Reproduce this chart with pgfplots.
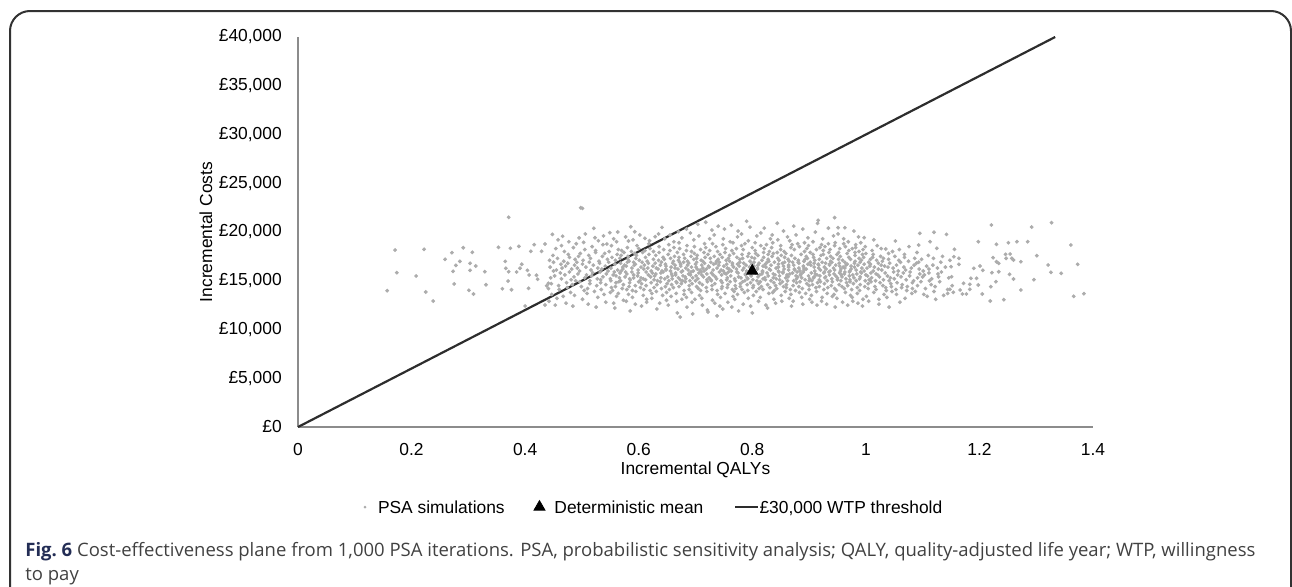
\documentclass[border=0pt]{standalone}
\usepackage{pgfplots}
\pgfplotsset{compat=1.18}
\usepackage{fontspec}
\setmainfont{Liberation Sans}
\newfontfamily\capfont{Open Sans}
\definecolor{axisgray}{RGB}{140,140,140}
\definecolor{dotgray}{RGB}{172,172,172}
\definecolor{linedark}{RGB}{45,45,45}
\definecolor{capblue}{RGB}{35,45,85}
\definecolor{captext}{RGB}{65,65,65}
\definecolor{framegray}{RGB}{50,50,50}

\begin{document}
\begin{tikzpicture}[x=0.5pt,y=0.5pt]
\useasboundingbox (0,0) rectangle (1292,586);
\begin{scope}
  \clip (0,0) rectangle (1292,586);
  \draw[framegray, line width=1pt, rounded corners=10pt] (10,-60) rectangle (1291,575);
\end{scope}

\begin{axis}[
  at={(149pt,79.5pt)}, anchor=south west,
  scale only axis, width=397.5pt, height=195pt,
  xmin=0, xmax=1.4, ymin=0, ymax=40000,
  scaled y ticks=false, scaled x ticks=false,
  axis x line*=bottom, axis y line*=left,
  axis line style={axisgray, line width=1pt},
  major tick length=0pt,
  clip=false,
  xtick={0,0.2,0.4,0.6,0.8,1,1.2,1.4},
  xticklabels={0,0.2,0.4,0.6,0.8,1,1.2,1.4},
  ytick={0,5000,10000,15000,20000,25000,30000,35000,40000},
  yticklabels={£0,{£5,000},{£10,000},{£15,000},{£20,000},{£25,000},{£30,000},{£35,000},{£40,000}},
  every tick label/.append style={font=\fontsize{8.7}{10}\selectfont},
  yticklabel style={xshift=-4.6pt},
  xticklabel style={yshift=-4.6pt},
  xlabel={Incremental QALYs},
  ylabel={Incremental Costs},
  label style={font=\fontsize{8.7}{10}\selectfont},
  xlabel style={at={(axis description cs:0.5,-0.1103)}, anchor=center},
  ylabel style={at={(axis description cs:-0.1157,0.5)}, anchor=center},
  legend columns=3,
  legend cell align=left,
  legend style={at={(axis description cs:0.0824,-0.2051)}, anchor=west,
    draw=none, fill=none, inner sep=0pt, outer sep=0pt,
    font=\fontsize{8.7}{10}\selectfont,
    nodes={inner sep=0pt, text depth=0pt},
    /tikz/column sep=0pt},
]

% PSA simulations
\addplot[only marks, mark=*, mark size=0.75pt, color=dotgray, forget plot] coordinates {
(0.171,18150) (0.222,18230) (0.174,15830) (0.208,15490) (0.157,13980) (0.225,13850) (0.238,12920) (0.371,21510)
(0.259,17200) (0.271,17880) (0.291,18390) (0.307,17920) (0.278,16580) (0.285,16990) (0.303,16790) (0.313,16510)
(0.273,15970) (0.303,16070) (0.329,15930) (0.275,14670) (0.331,14590) (0.301,14020) (0.309,13640) (0.353,18430)
(0.374,18330) (0.389,18530) (0.416,18700) (0.435,18770) (0.410,18020) (0.429,18020) (0.365,16990) (0.394,16690)
(0.366,16280) (0.371,15930) (0.391,16280) (0.385,15900) (0.404,16070) (0.407,15590) (0.420,15560) (0.422,15150)
(0.370,14970) (0.360,14180) (0.376,14080) (0.406,14230) (0.438,14490) (0.441,14740) (0.400,12410) (0.435,12510)
(0.443,17100) (0.445,15300) (0.441,14200) (0.444,16400) (0.442,12900)
(0.448,19760) (0.450,16000) (0.446,14700) (0.449,17600) (0.447,13600)
(0.452,15500) (0.454,18300) (0.450,16900) (0.453,12500)
(0.457,17300) (0.459,14500) (0.455,16100) (0.458,19200) (0.456,13200)
(0.462,15800) (0.464,18600) (0.460,14100) (0.463,16700)
(0.466,19560) (0.468,17000) (0.464,15200) (0.467,13400) (0.465,16300)
(0.471,16500) (0.473,14800) (0.469,18000) (0.472,12700) (0.470,15600)
(0.476,17700) (0.478,15900) (0.474,14300) (0.477,19000) (0.475,16800)
(0.480,13800) (0.482,16200) (0.478,17400) (0.481,15100)
(0.485,18400) (0.487,16600) (0.483,14600) (0.486,15400) (0.484,12400) (0.488,17200)
(0.489,15000) (0.491,16900) (0.487,13500) (0.490,18800)
(0.494,17500) (0.496,14900) (0.492,16300) (0.495,19400) (0.493,15700)
(0.498,22490) (0.501,22420) (0.496,16000) (0.499,14400) (0.497,17800) (0.501,13100)
(0.503,18940) (0.505,15300) (0.501,16700) (0.504,14000) (0.502,17100)
(0.507,16400) (0.509,13700) (0.505,18200) (0.508,15600) (0.506,19800)
(0.512,17600) (0.514,15000) (0.510,14200) (0.513,16900) (0.511,12600)
(0.516,16100) (0.518,18500) (0.514,14700) (0.517,15500) (0.515,17300)
(0.521,20380) (0.523,19415) (0.519,15800) (0.522,13900) (0.520,16600) (0.524,17900)
(0.526,14500) (0.528,16300) (0.524,18100) (0.527,15200) (0.525,12300)
(0.530,17000) (0.532,15900) (0.528,13300) (0.531,16800) (0.529,19100) (0.533,14800)
(0.535,16200) (0.537,18700) (0.533,15100) (0.536,17500) (0.534,14100)
(0.539,13600) (0.541,16500) (0.537,15400) (0.540,17800) (0.538,19600) (0.542,12800)
(0.544,18770) (0.546,16000) (0.542,14600) (0.545,17200) (0.543,15700)
(0.549,19930) (0.551,15000) (0.547,16900) (0.550,13800) (0.548,18000) (0.552,14300)
(0.553,17400) (0.555,15600) (0.551,16300) (0.554,14000) (0.552,18600) (0.556,12700) (0.550,15200)
(0.558,16700) (0.560,14800) (0.556,19300) (0.559,17100) (0.557,15900) (0.561,13400)
(0.561,19005) (0.563,16100) (0.559,14400) (0.562,17700) (0.560,15500) (0.564,18200) (0.558,12200)
(0.566,15300) (0.568,16800) (0.564,13700) (0.567,17300) (0.565,14900) (0.569,16000) (0.563,20000)
(0.570,18100) (0.572,16400) (0.568,15000) (0.571,14200) (0.569,17600) (0.573,13000) (0.567,15800)
(0.575,16600) (0.577,19500) (0.573,14600) (0.576,15400) (0.574,17900) (0.578,12900) (0.572,16200)
(0.579,14100) (0.581,17200) (0.577,15900) (0.580,18400) (0.578,16500) (0.582,13600)
(0.582,19076) (0.584,15200) (0.580,16900) (0.583,14400) (0.581,17500) (0.585,11900) (0.579,15700)
(0.586,20540) (0.588,16300) (0.584,14800) (0.587,18000) (0.585,15100) (0.589,13300) (0.583,17000)
(0.591,15600) (0.593,17800) (0.589,14000) (0.592,16600) (0.590,19200) (0.594,12600) (0.588,15900) (0.591,16900)
(0.593,20030) (0.595,17300) (0.591,15300) (0.594,14500)
(0.597,18600) (0.599,16100) (0.595,13900) (0.598,15500) (0.596,17600) (0.600,14900) (0.594,16700)
(0.602,15000) (0.604,16400) (0.600,18300) (0.603,14300) (0.601,17100) (0.605,12400) (0.599,15800) (0.602,19700)
(0.606,16900) (0.608,13500) (0.604,15300) (0.607,17900) (0.605,14700) (0.609,16200)
(0.611,19354) (0.613,15900) (0.609,14100) (0.612,17400) (0.610,16600) (0.614,13100) (0.608,15200) (0.611,18100)
(0.615,17000) (0.617,15600) (0.613,14500) (0.616,16300) (0.614,12800) (0.618,18800) (0.612,15100)
(0.620,14000) (0.622,16000) (0.618,17700) (0.621,15400) (0.619,19100) (0.623,13700) (0.617,16800) (0.620,18300)
(0.624,15800) (0.626,17200) (0.622,14800) (0.625,16500) (0.623,13200) (0.627,15100)
(0.629,19518) (0.631,16300) (0.627,14300) (0.630,17600) (0.628,15500) (0.632,12100) (0.626,18000) (0.629,16800)
(0.633,15000) (0.635,17100) (0.631,13900) (0.634,16200) (0.632,14600) (0.636,18500) (0.630,15700)
(0.638,16600) (0.640,14200) (0.636,17900) (0.639,15300) (0.637,12700) (0.641,16000) (0.635,19800) (0.638,14900)
(0.641,20480) (0.643,17400) (0.639,15800) (0.642,13500) (0.640,16900)
(0.646,15200) (0.648,16500) (0.644,18200) (0.647,14400) (0.645,17200) (0.649,13000) (0.643,15900) (0.646,19300) (0.648,16200)
(0.650,14700) (0.652,17700) (0.648,16100) (0.651,15400) (0.649,13800) (0.653,18700) (0.647,16700)
(0.655,19692) (0.657,16400) (0.653,15000) (0.656,17300) (0.654,14100) (0.658,15700) (0.652,12500) (0.655,18100)
(0.659,15500) (0.661,17000) (0.657,13400) (0.660,16800) (0.658,14600) (0.662,19000) (0.656,16000) (0.659,15200)
(0.664,16300) (0.666,14900) (0.662,18400) (0.665,15800) (0.663,17500) (0.667,12900) (0.661,14300) (0.664,16600)
(0.668,17900) (0.670,15300) (0.666,13700) (0.669,16200) (0.667,14800) (0.671,18900) (0.665,15600)
(0.670,20030) (0.672,16900) (0.668,11700) (0.671,17400)
(0.673,11280) (0.675,15900) (0.671,14400) (0.674,16500) (0.672,18300) (0.676,13100) (0.670,17100) (0.673,15100)
(0.677,16000) (0.679,17700) (0.675,14700) (0.678,15500) (0.676,19400) (0.680,13600) (0.674,16700) (0.677,15000)
(0.682,15400) (0.684,18100) (0.680,14000) (0.683,16300) (0.681,17300) (0.685,12300) (0.679,16900) (0.682,14900) (0.684,20300)
(0.686,17000) (0.688,15700) (0.684,13300) (0.687,16100) (0.685,18600) (0.689,14500) (0.683,15200) (0.686,16600)
(0.691,19900) (0.693,16400) (0.689,14100) (0.692,17500) (0.690,15000) (0.694,12800) (0.688,16800) (0.691,15600) (0.693,18000)
(0.695,15300) (0.697,17200) (0.693,13800) (0.696,16000) (0.694,14700) (0.698,18500) (0.692,15900) (0.695,11600)
(0.700,16700) (0.702,14400) (0.698,17800) (0.701,15500) (0.699,13100) (0.703,16200) (0.697,19200) (0.700,15000) (0.702,17300)
(0.704,20800) (0.706,15800) (0.702,16900) (0.705,14200) (0.703,17600) (0.707,13500) (0.701,16400) (0.704,15200)
(0.709,18200) (0.711,15600) (0.707,14800) (0.710,17100) (0.708,16100) (0.712,12500) (0.706,19600) (0.709,14000) (0.711,16600)
(0.713,16300) (0.715,17900) (0.711,13200) (0.714,15400) (0.712,14600) (0.716,18800) (0.710,15900) (0.713,17000)
(0.718,21000) (0.720,15100) (0.716,16800) (0.719,14300) (0.717,17400) (0.721,12000) (0.715,16000) (0.718,18400) (0.720,15700)
(0.722,17700) (0.724,15300) (0.720,13900) (0.723,16500) (0.721,14900) (0.725,19300) (0.719,16200) (0.722,11800)
(0.727,16900) (0.729,14500) (0.725,18100) (0.728,15800) (0.726,17300) (0.730,13000) (0.724,16400) (0.727,15100) (0.729,20200)
(0.731,15600) (0.733,17500) (0.729,14100) (0.732,16700) (0.730,18800) (0.734,12700) (0.728,15000) (0.731,16100)
(0.736,18500) (0.738,16300) (0.734,14700) (0.737,17000) (0.735,15400) (0.739,13600) (0.733,19700) (0.736,16800) (0.738,11400)
(0.740,17200) (0.742,15900) (0.738,14000) (0.741,16600) (0.739,18000) (0.743,12400) (0.737,15200) (0.740,20600)
(0.745,16100) (0.747,14400) (0.743,17700) (0.746,15600) (0.744,13300) (0.748,18700) (0.742,16900) (0.745,15000) (0.747,17400)
(0.749,19300) (0.751,15800) (0.747,14800) (0.750,16500) (0.748,12100) (0.752,17900) (0.746,14200) (0.749,16000)
(0.754,17100) (0.756,15300) (0.752,13700) (0.755,16700) (0.753,18300) (0.757,14600) (0.751,20300) (0.754,15700) (0.756,16300)
(0.758,15900) (0.760,17600) (0.756,14300) (0.759,16200) (0.757,12800) (0.761,19000) (0.755,15100) (0.758,17300)
(0.763,20700) (0.765,16600) (0.761,14900) (0.764,18100) (0.762,15500) (0.766,13400) (0.760,17000) (0.763,16000) (0.765,14100)
(0.767,17800) (0.769,15200) (0.765,16800) (0.768,13900) (0.766,18900) (0.770,14500) (0.764,12300) (0.767,16400)
(0.772,16200) (0.774,19500) (0.770,15000) (0.773,17400) (0.771,14200) (0.775,15800) (0.769,13100) (0.772,18300) (0.774,16700)
(0.776,15400) (0.778,17200) (0.774,13600) (0.777,16500) (0.775,20100) (0.779,14700) (0.773,15900) (0.776,11900)
(0.781,18600) (0.783,16100) (0.779,14400) (0.782,17700) (0.780,15300) (0.784,12600) (0.778,16900) (0.781,19800) (0.783,14900)
(0.785,16800) (0.787,15000) (0.783,17300) (0.786,13800) (0.784,18200) (0.788,15600) (0.782,14100) (0.785,16300)
(0.790,21100) (0.792,17500) (0.788,15700) (0.791,14600) (0.789,16600) (0.793,13200) (0.787,18800) (0.790,16000) (0.792,15200)
(0.794,15900) (0.796,17000) (0.792,14000) (0.795,16400) (0.793,19100) (0.797,12400) (0.791,15300) (0.794,17800)
(0.799,17400) (0.801,16100) (0.797,14800) (0.800,18400) (0.798,15500) (0.802,13500) (0.796,20500) (0.799,16700) (0.801,14300)
(0.803,16500) (0.805,18900) (0.801,15100) (0.804,17300) (0.802,14500) (0.806,15800) (0.800,11700) (0.803,16900)
(0.808,19600) (0.810,15400) (0.806,17800) (0.809,16200) (0.807,13900) (0.811,14700) (0.805,18100) (0.808,15000) (0.810,16600)
(0.812,16800) (0.814,14900) (0.810,17600) (0.813,15600) (0.811,12900) (0.815,18600) (0.809,16300) (0.812,14200)
(0.817,17100) (0.819,15200) (0.815,19900) (0.818,16000) (0.816,14400) (0.820,17900) (0.814,13300) (0.817,15700) (0.819,16500)
(0.821,18300) (0.823,16700) (0.819,14100) (0.822,15300) (0.820,17400) (0.824,12500) (0.818,15900) (0.821,20400)
(0.826,15800) (0.828,17200) (0.824,16400) (0.827,14600) (0.825,18700) (0.829,13700) (0.823,15100) (0.826,16900) (0.828,17700)
(0.830,16200) (0.832,19300) (0.828,15500) (0.831,14300) (0.829,17000) (0.833,15000) (0.827,12200) (0.830,18000)
(0.835,17500) (0.837,15700) (0.833,16600) (0.836,13800) (0.834,18400) (0.838,14800) (0.832,16100) (0.835,19700) (0.837,15300)
(0.839,16900) (0.841,14500) (0.837,17800) (0.840,15600) (0.838,13100) (0.842,16300) (0.836,18900) (0.839,14000)
(0.844,20900) (0.846,16400) (0.842,15200) (0.845,17300) (0.843,14200) (0.847,15900) (0.841,12700) (0.844,17900) (0.846,16700)
(0.848,15500) (0.850,18200) (0.846,16000) (0.849,14700) (0.847,17100) (0.851,13500) (0.845,19200) (0.848,15100)
(0.853,16800) (0.855,14400) (0.851,17600) (0.854,15800) (0.852,12900) (0.856,16200) (0.850,18600) (0.853,14900) (0.855,20100)
(0.857,17400) (0.859,15300) (0.855,16500) (0.858,13900) (0.856,18000) (0.860,14600) (0.854,15900) (0.857,16900)
(0.862,19500) (0.864,16100) (0.860,14300) (0.863,17200) (0.861,15600) (0.865,13200) (0.859,17800) (0.862,15000) (0.864,16600)
(0.866,15700) (0.868,18400) (0.864,16400) (0.867,14100) (0.865,17000) (0.869,12400) (0.863,15400) (0.866,19100)
(0.871,16900) (0.873,15000) (0.869,17600) (0.872,14500) (0.870,18700) (0.874,16200) (0.868,13600) (0.871,15800) (0.873,20600)
(0.875,17300) (0.877,15500) (0.873,16600) (0.876,14000) (0.874,18200) (0.878,15200) (0.872,12900) (0.875,16100)
(0.880,18800) (0.882,16300) (0.878,14800) (0.881,17100) (0.879,15900) (0.883,13800) (0.877,19700) (0.880,15400) (0.882,16800)
(0.884,16000) (0.886,17700) (0.882,14400) (0.885,15600) (0.883,18500) (0.887,13300) (0.881,16900) (0.884,14900)
(0.889,20300) (0.891,17000) (0.887,15300) (0.890,16500) (0.888,14200) (0.892,18000) (0.886,15700) (0.889,12600) (0.891,16300)
(0.893,15100) (0.895,17500) (0.891,16100) (0.894,13700) (0.892,18900) (0.896,14700) (0.890,15900) (0.893,17200)
(0.898,16700) (0.900,14500) (0.896,18300) (0.899,15500) (0.897,17300) (0.901,13100) (0.895,16200) (0.898,19400) (0.900,15000)
(0.902,17900) (0.904,15800) (0.900,14100) (0.903,16600) (0.901,15200) (0.905,12800) (0.899,18600) (0.902,16900)
(0.907,19000) (0.909,16400) (0.905,15000) (0.908,17400) (0.906,14600) (0.910,16000) (0.904,13500) (0.907,17700) (0.909,15400)
(0.911,15700) (0.913,18200) (0.909,16800) (0.912,14300) (0.910,17100) (0.914,12500) (0.908,15300) (0.911,20000)
(0.916,21200) (0.918,17200) (0.914,15600) (0.917,16300) (0.915,14800) (0.919,18400) (0.913,13900) (0.916,16700) (0.918,15100)
(0.920,16100) (0.922,18700) (0.918,14400) (0.921,17600) (0.919,15500) (0.923,13300) (0.917,16600) (0.920,14900)
(0.925,17700) (0.927,15900) (0.923,16900) (0.926,14100) (0.924,19300) (0.928,15300) (0.922,12900) (0.925,18100) (0.927,16400)
(0.929,15400) (0.931,17300) (0.927,14700) (0.930,16200) (0.928,18500) (0.932,13700) (0.926,15800) (0.929,16800)
(0.934,20400) (0.936,16600) (0.932,15000) (0.935,17900) (0.933,14300) (0.937,16000) (0.931,12600) (0.934,18800) (0.936,15600)
(0.938,17000) (0.940,15200) (0.936,16700) (0.939,14500) (0.937,18200) (0.941,13400) (0.935,15900) (0.938,17500)
(0.943,16300) (0.945,18600) (0.941,14900) (0.944,15700) (0.942,17300) (0.946,12300) (0.940,16900) (0.943,19600) (0.945,14200)
(0.945,21470) (0.915,20890) (0.951,20440) (0.963,20440)
(0.947,15500) (0.949,17700) (0.945,16100) (0.948,14000) (0.946,18900) (0.950,15100) (0.944,13600) (0.947,16600)
(0.952,17900) (0.954,16500) (0.950,15300) (0.953,14600) (0.951,19800) (0.955,16000) (0.949,13200) (0.952,17200) (0.954,15800)
(0.956,16200) (0.958,14400) (0.954,18300) (0.957,15600) (0.955,17500) (0.959,12800) (0.953,16800) (0.956,15000)
(0.961,18800) (0.963,15900) (0.959,17100) (0.962,14200) (0.960,16400) (0.964,13800) (0.958,15400) (0.961,19300) (0.963,16900)
(0.965,15200) (0.967,17800) (0.963,16300) (0.966,14800) (0.964,18500) (0.968,12500) (0.962,15700) (0.965,16600)
(0.970,17400) (0.972,16000) (0.968,14500) (0.971,15500) (0.969,19000) (0.973,13500) (0.967,16700) (0.970,18100) (0.972,14900)
(0.974,16500) (0.976,18300) (0.972,15100) (0.975,14100) (0.973,17200) (0.977,12900) (0.971,15900) (0.974,16200)
(0.979,20100) (0.981,17000) (0.977,15600) (0.980,16800) (0.978,14700) (0.982,18700) (0.976,13300) (0.979,15300) (0.981,17600)
(0.983,16100) (0.985,14300) (0.981,17900) (0.984,15700) (0.982,18400) (0.986,12700) (0.980,16400) (0.983,15000)
(0.988,17300) (0.990,15400) (0.986,16600) (0.989,14000) (0.987,19500) (0.991,15900) (0.985,13700) (0.988,18000) (0.990,16900)
(0.992,15800) (0.994,17700) (0.990,14600) (0.993,16300) (0.991,18900) (0.995,13100) (0.989,15200) (0.992,17100)
(0.997,16700) (0.999,15000) (0.995,18200) (0.998,14400) (0.996,17400) (1.000,15600) (0.994,12400) (0.997,16000) (0.997,19415)
(1.002,16300) (1.004,14700) (1.000,17800) (1.003,15500) (1.001,13400) (1.005,16900) (0.999,18500)
(1.006,15100) (1.008,17200) (1.004,14200) (1.007,16500) (1.005,12900) (1.009,15800)
(1.011,18100) (1.013,16000) (1.009,14900) (1.012,17400) (1.010,15300) (1.014,13800) (1.008,16700)
(1.015,16400) (1.017,15000) (1.013,17700) (1.016,14400) (1.014,19200) (1.018,15700)
(1.020,18600) (1.022,16800) (1.018,14100) (1.021,15600) (1.019,17100) (1.023,13100)
(1.024,15400) (1.026,17500) (1.022,16200) (1.025,14800) (1.023,12600) (1.027,16600)
(1.029,17000) (1.031,15100) (1.027,18300) (1.030,14500) (1.028,16100) (1.032,13600)
(1.033,16500) (1.035,14300) (1.031,17300) (1.034,15800) (1.035,18260)
(1.038,15500) (1.040,17800) (1.036,14000) (1.039,16400) (1.037,13300) (1.041,15000)
(1.042,16800) (1.044,14700) (1.040,17200) (1.043,15300) (1.041,12300)
(1.047,18000) (1.049,15900) (1.045,14400) (1.048,16300) (1.046,13900)
(1.052,19076) (1.054,16600) (1.050,15200) (1.053,14100) (1.051,17500)
(1.056,15600) (1.058,17100) (1.054,13600) (1.057,16000) (1.055,14800)
(1.061,16900) (1.063,14300) (1.059,18200) (1.062,15400) (1.060,12800)
(1.066,15800) (1.068,17400) (1.064,14600) (1.067,16400)
(1.070,16100) (1.072,14000) (1.068,17700) (1.071,15100) (1.069,13200)
(1.075,17000) (1.077,15500) (1.073,14400) (1.076,18500)
(1.080,16300) (1.082,14800) (1.078,15900) (1.081,13700)
(1.084,15000) (1.086,17300) (1.082,14200) (1.085,16600)
(1.089,16800) (1.091,15300) (1.087,13900) (1.090,17900)
(1.093,18666) (1.095,15700) (1.091,14500) (1.094,16200)
(1.095,19860) (1.097,14900) (1.093,16900)
(1.100,15400) (1.102,13600) (1.098,17200) (1.101,16000)
(1.105,14200) (1.107,16500) (1.103,15600)
(1.110,17600) (1.112,15000) (1.108,13400) (1.111,16200)
(1.113,19005) (1.115,14600) (1.111,15800)
(1.118,16600) (1.120,13900) (1.116,15200) (1.119,17300)
(1.120,19970) (1.122,14400)
(1.125,18330) (1.127,15700) (1.123,13100) (1.126,16300)
(1.130,14900) (1.132,16900) (1.128,15400)
(1.135,17500) (1.137,13500) (1.133,15900)
(1.142,19760) (1.144,14100) (1.140,16400)
(1.146,15300) (1.148,17100) (1.144,13700)
(1.221,20717) (1.292,20512) (1.327,20953) (1.156,18225) (1.198,19005) (1.230,18738) (1.251,18902) (1.266,19005)
(1.285,19005) (1.361,18666) (1.155,17466) (1.164,17302) (1.164,16686) (1.224,17363) (1.230,16953) (1.234,16789)
(1.246,17712) (1.254,17743) (1.247,17302) (1.257,17302) (1.260,17128) (1.273,16953) (1.301,17568) (1.321,16615)
(1.373,16686) (1.150,16440) (1.190,16276) (1.201,16512) (1.206,16071) (1.222,15826) (1.234,15928) (1.253,15661)
(1.260,15179) (1.326,15866) (1.344,15764) (1.296,15107) (1.151,15415) (1.185,15251) (1.195,15251) (1.229,14902)
(1.172,14738) (1.183,14635) (1.198,14564) (1.220,14389) (1.152,14492) (1.148,14123) (1.166,14051) (1.183,14123)
(1.154,13815) (1.170,13641) (1.177,13641) (1.205,13641) (1.273,14051) (1.219,12923) (1.243,13056) (1.366,13405)
(1.384,13672)
};

% £30,000 WTP threshold
\addplot[color=linedark, line width=1.1pt, forget plot] coordinates {(0,0) (1.33333,40000)};

% deterministic mean
\addplot[only marks, mark=triangle*, mark size=3.2pt, color=black, forget plot] coordinates {(0.8,16000)};

\addlegendimage{legend image code/.code={
  \path[draw=none, fill=none] (0pt,0pt) rectangle (7.25pt,0pt);
  \path[draw=none, fill=dotgray] (0.75pt,0pt) circle (0.75pt);}}
\addlegendentry{PSA simulations}
\addlegendimage{legend image code/.code={
  \path[draw=none, fill=none] (-17.4pt,0pt) rectangle (7.5pt,0pt);
  \path[draw=black, fill=black, mark size=3.2pt] plot[mark=triangle*] coordinates {(0pt,0pt)};}}
\addlegendentry{Deterministic mean}
\addlegendimage{legend image code/.code={
  \path[draw=none, fill=none] (-16pt,0pt) rectangle (11.8pt,0pt);
  \path[draw=linedark, line width=1.1pt] (0pt,0pt) -- (11.5pt,0pt);}}
\addlegendentry{£30,000 WTP threshold}
\end{axis}

\node[anchor=base west, inner sep=0pt, font=\capfont\fontsize{9.25}{12}\selectfont, text=captext] at (25,30)
  {{\bfseries\color{capblue}Fig.~6} Cost-effectiveness plane from 1,000 PSA iterations. PSA, probabilistic sensitivity analysis; QALY, quality-adjusted life year; WTP, willingness};
\node[anchor=base west, inner sep=0pt, font=\capfont\fontsize{9.25}{12}\selectfont, text=captext] at (25,6)
  {to pay};
\end{tikzpicture}
\end{document}
